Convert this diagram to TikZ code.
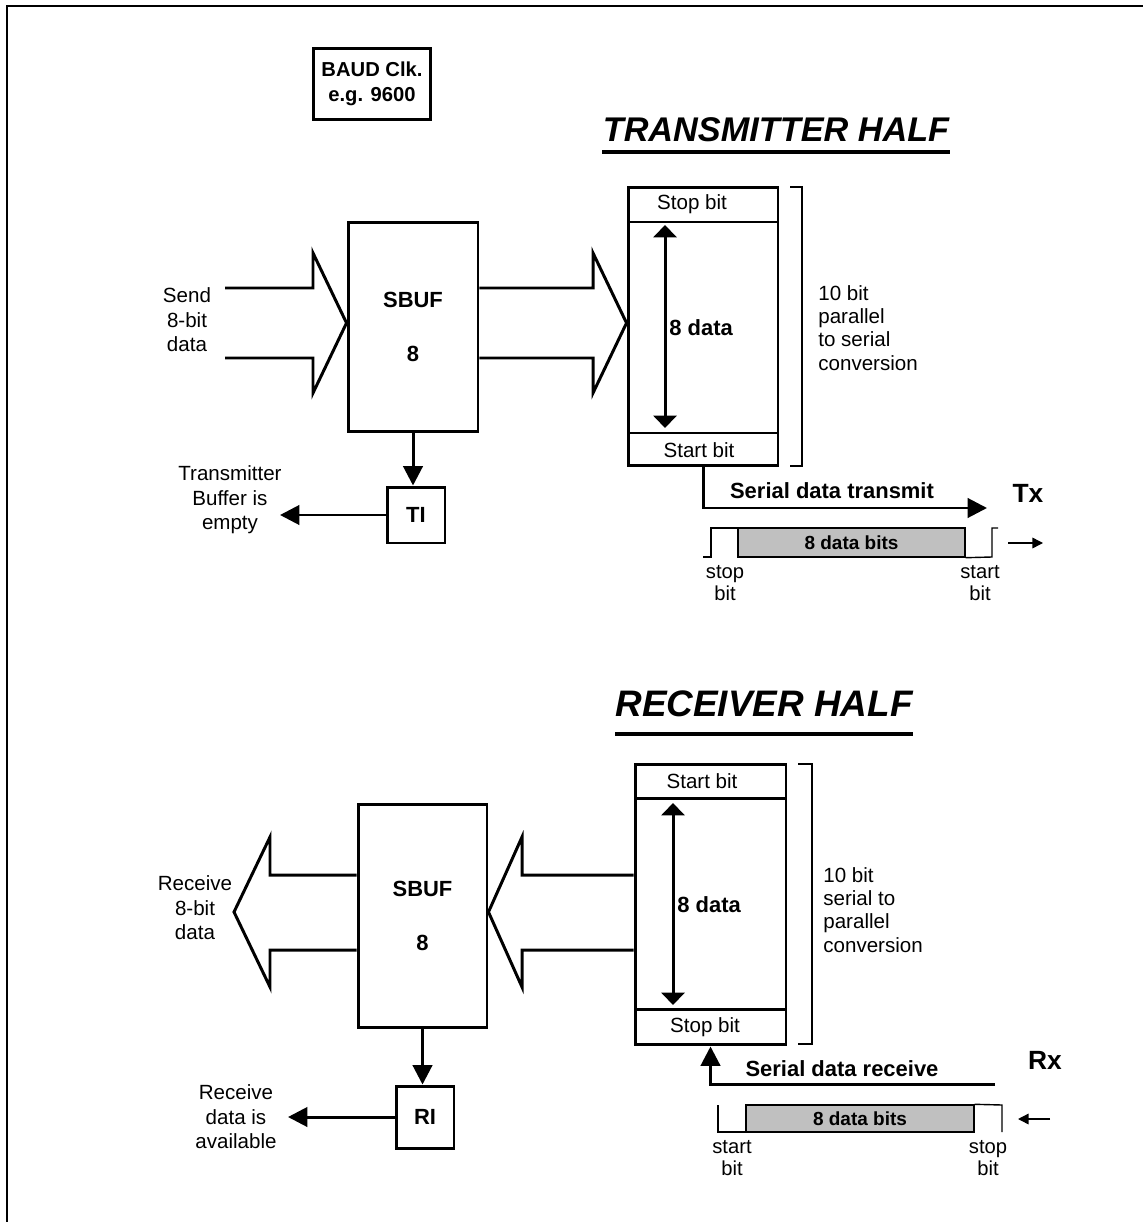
\documentclass[tikz,border=0pt]{standalone}
\usepackage{fontspec}
\setmainfont{Liberation Sans}
\usetikzlibrary{arrows.meta}
\definecolor{bitgray}{RGB}{192,192,192}
\begin{document}
\begin{tikzpicture}[x=0.02cm,y=-0.02cm,line cap=butt,line join=miter,
	heavy/.style={line width=1.7pt},
	slim/.style={line width=0.8pt},
	blk/.style={draw,line width=1.7pt,inner sep=0pt,font=\fontsize{12.5}{15}\selectfont\bfseries,align=center},
	txt/.style={inner sep=0pt,font=\fontsize{11.7}{14}\selectfont,align=center},
	bld/.style={inner sep=0pt,font=\fontsize{12.5}{15}\selectfont\bfseries},
	big/.style={-{Triangle[length=11pt,width=11pt]}},
	dbl/.style={{Triangle[length=7pt,width=13pt]}-{Triangle[length=7pt,width=13pt]}},
	small/.style={-{Triangle[length=6pt,width=6pt]}}]
	\useasboundingbox (0,0) rectangle (1143,1222);
	% frame
	\draw[line width=1.1pt] (7,1222)--(7,6)--(1143,6);
	% clock
	\node[blk,minimum width=2.34cm,minimum height=1.42cm,font=\fontsize{11.5}{14.5}\selectfont\bfseries] (baud) at (372,84) {BAUD Clk.\\e.g. 9600};
	%%%%%%%%%%%%%%%% transmitter
	\node[inner sep=0pt,font=\fontsize{19.5}{22}\selectfont\bfseries\itshape] (titT) at (776,130) {TRANSMITTER HALF};
	\draw[line width=2.2pt] (titT.west|-0,152)--(titT.east|-0,152);
	\node[blk,minimum width=2.6cm,minimum height=4.18cm] (sbufT) at (413,327) {SBUF\\[16pt]8};
	\node[blk,minimum width=1.16cm,minimum height=1.12cm] (ti) at (416,515) {TI};
	\node[draw,line width=1.7pt,minimum width=3cm,minimum height=5.58cm] (regT) at (703,326.5) {};
	\draw[heavy] (628,222)--(778,222) (628,433)--(778,433);
	% bus arrows
	\draw[heavy] (225,288)--(313,288)--(313,253)--(sbufT.west|-0,323)--(313,393)--(313,358)--(225,358);
	\draw[heavy] (sbufT.east|-0,288)--(593,288)--(593,253)--(regT.west|-0,323)--(593,393)--(593,358)--(sbufT.east|-0,358);
	\node[txt] (send) at (187,320) {Send\\8-bit\\data};
	\draw[heavy,big] (sbufT.south)--(sbufT.south|-ti.north);
	\coordinate (tiEnd) at (280,515);
	\draw[heavy,big] (ti.west)--(tiEnd);
	\node[txt] (empty) at (230,500) {Transmitter\\Buffer is\\empty};
	% register
	\node[txt] (stopT) at (692,204.5) {Stop bit};
	\node[txt] (startT) at (699,450) {Start bit};
	\coordinate (dT1) at (665,225);
	\coordinate (dT2) at (665,428);
	\draw[heavy,dbl] (dT1)--(dT2);
	\node[bld,anchor=west] (dataT) at (669,328) {8 data};
	\draw[slim] (790,187)--(802,187)--(802,466)--(790,466);
	\node[txt,anchor=west,align=left,font=\fontsize{11.7}{13.2}\selectfont] (convT) at (818,328) {10 bit\\parallel\\to serial\\conversion};
	% serial out
	\coordinate (txEnd) at (987,508);
	\draw[heavy,big] (regT.south) |- (txEnd);
	\node[bld] (serT) at (832,491) {Serial data transmit};
	\node[bld,font=\fontsize{15}{18}\selectfont\bfseries] (tx) at (1028,493) {Tx};
	\draw[slim] (703,557)--(711,557)--(711,528)--(738,528);
	\node[draw,slim,fill=bitgray,minimum width=4.54cm,minimum height=0.58cm,inner sep=0pt,font=\fontsize{10.8}{13}\selectfont\bfseries] (bitsT) at (851.5,542.5) {8 data bits};
	\draw[slim] (bitsT.south east)--(992,557)--(992,528)--(998,528);
	\coordinate (aT1) at (1008,543);
	\coordinate (aT2) at (1043,543);
	\draw[slim,small] (aT1)--(aT2);
	\node[txt,font=\fontsize{11.5}{12.5}\selectfont] (stopbT) at (725,583) {stop\\bit};
	\node[txt,font=\fontsize{11.5}{12.5}\selectfont] (startbT) at (980,583) {start\\bit};
	%%%%%%%%%%%%%%%% receiver
	\node[inner sep=0pt,font=\fontsize{21}{24}\selectfont\bfseries\itshape] (titR) at (764,704) {RECEIVER HALF};
	\draw[line width=2.2pt] (titR.west|-0,734)--(titR.east|-0,734);
	\node[blk,minimum width=2.58cm,minimum height=4.48cm] (sbufR) at (422.5,916) {SBUF\\[16pt]8};
	\node[blk,minimum width=1.16cm,minimum height=1.24cm] (ri) at (425,1117) {RI};
	\node[draw,line width=1.7pt,minimum width=3.02cm,minimum height=5.62cm] (regR) at (710.5,904.5) {};
	\draw[heavy] (635,798)--(786,798) (635,1009)--(786,1009);
	% bus arrows
	\draw[heavy] (sbufR.west|-0,875)--(270,875)--(270,837)--(234,912)--(270,987)--(270,950)--(sbufR.west|-0,950);
	\draw[heavy] (regR.west|-0,875)--(522,875)--(522,837)--(sbufR.east|-0,912)--(522,987)--(522,950)--(regR.west|-0,950);
	\node[txt] (recv) at (195,908) {Receive\\8-bit\\data};
	\draw[heavy,big] (sbufR.south)--(sbufR.south|-ri.north);
	\coordinate (riEnd) at (288,1117);
	\draw[heavy,big] (ri.west)--(riEnd);
	\node[txt] (avail) at (236,1117) {Receive\\data is\\available};
	% register
	\node[txt] (startR) at (702,781) {Start bit};
	\node[txt] (stopR) at (705,1027) {Stop bit};
	\coordinate (dR1) at (673,803);
	\coordinate (dR2) at (673,1005);
	\draw[heavy,dbl] (dR1)--(dR2);
	\node[bld,anchor=west] (dataR) at (677,905) {8 data};
	\draw[slim] (798,764)--(812,764)--(812,1044)--(798,1044);
	\node[txt,anchor=west,align=left,font=\fontsize{11.7}{13.2}\selectfont] (convR) at (823,910) {10 bit\\serial to\\parallel\\conversion};
	% serial in
	\coordinate (rxStart) at (995,1084);
	\draw[heavy,big] (rxStart) -| (regR.south);
	\node[bld] (serR) at (842,1069) {Serial data receive};
	\node[bld,font=\fontsize{15}{18}\selectfont\bfseries] (rx) at (1045,1060) {Rx};
	\draw[slim] (718,1105)--(718,1132)--(746,1132);
	\node[draw,slim,fill=bitgray,minimum width=4.56cm,minimum height=0.54cm,inner sep=0pt,font=\fontsize{10.8}{13}\selectfont\bfseries] (bitsR) at (860,1118.5) {8 data bits};
	\draw[slim] (bitsR.north east)--(1002,1105)--(1002,1132);
	\coordinate (aR1) at (1050,1119);
	\coordinate (aR2) at (1018,1119);
	\draw[slim,small] (aR1)--(aR2);
	\node[txt,font=\fontsize{11.5}{12.5}\selectfont] (startbR) at (732,1158) {start\\bit};
	\node[txt,font=\fontsize{11.5}{12.5}\selectfont] (stopbR) at (988,1158) {stop\\bit};
\end{tikzpicture}
\end{document}
